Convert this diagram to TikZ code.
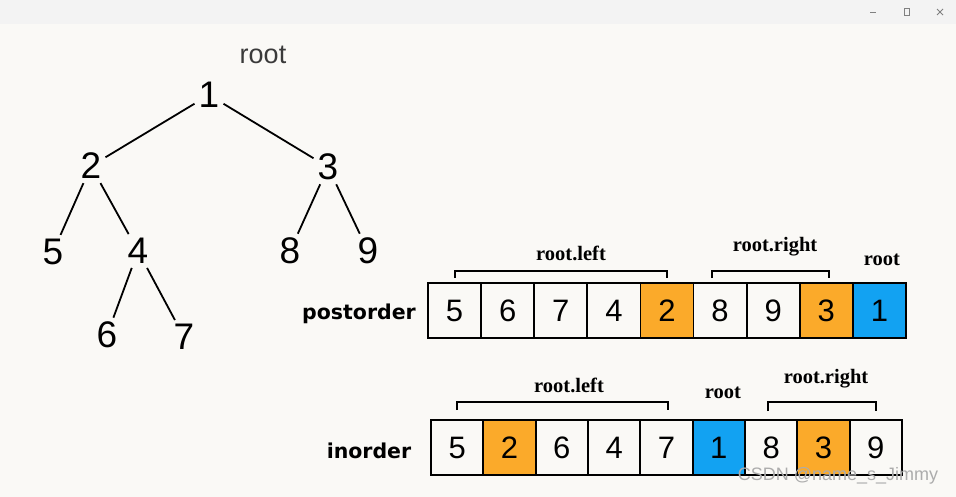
\documentclass[tikz,border=0pt]{standalone}
\usepackage{xcolor}
\usepackage{fontspec}
\setmainfont{Liberation Serif}
\setsansfont{Liberation Sans}
\newfontfamily\orderfont{DejaVu Sans}
\usepackage{tikz}
\usetikzlibrary{positioning}
\definecolor{barGray}{HTML}{F3F3F3}
\definecolor{paperWhite}{HTML}{FAF9F6}
\definecolor{cellOrange}{HTML}{FBAA2A}
\definecolor{cellBlue}{HTML}{12A2F2}
\definecolor{rootGray}{HTML}{3A3A3A}

\begin{document}
\begin{tikzpicture}[x=1pt, y=-1pt]
% style: tree_node
\tikzstyle{tree_node}=[inner sep=4pt,font=\sffamily\fontsize{37}{37}\selectfont]
% style: tree_edge
\tikzstyle{tree_edge}=[line width=1.8pt]
% style: post_cell
\tikzstyle{post_cell}=[draw,line width=1.8pt,minimum width=53.1pt,minimum height=55pt,inner sep=0pt,outer sep=0pt,font=\sffamily\fontsize{31}{31}\selectfont]
% style: in_cell
\tikzstyle{in_cell}=[draw,line width=1.8pt,minimum width=52.3pt,minimum height=55pt,inner sep=0pt,outer sep=0pt,font=\sffamily\fontsize{31}{31}\selectfont]
% style: orderLabel
\tikzstyle{orderLabel}=[inner sep=0pt,font=\orderfont\bfseries\fontsize{20.5}{20.5}\selectfont]
% style: partLabel
\tikzstyle{partLabel}=[inner sep=0pt,font=\rmfamily\bfseries\fontsize{20.5}{20.5}\selectfont]
% style: bracket
\tikzstyle{bracket}=[line width=1.4pt]

% background and window bar
\fill[paperWhite] (0,0) rectangle (956,497);
\fill[barGray] (0,0) rectangle (956,24);
\draw[gray, line width=0.8pt] (870,12) -- (876,12);
\draw[gray, line width=0.8pt] (904.5,8.5) rectangle (909.5,15.5);
\draw[gray, line width=0.8pt] (937,9) -- (943,15) (937,15) -- (943,9);

% node group: tree
% node: tree_root_label
\node[inner sep=0pt,text=rootGray,font=\sffamily\fontsize{27}{27}\selectfont] (tree_root_label) at (263, 55) {root};
% node: t1
\node[tree_node] (t1) at (209, 95) {1};
% node: t2
\node[tree_node] (t2) at (91, 166) {2};
% node: t3
\node[tree_node] (t3) at (328, 167) {3};
% node: t5
\node[tree_node] (t5) at (53, 252) {5};
% node: t4
\node[tree_node] (t4) at (138, 251) {4};
% node: t8
\node[tree_node] (t8) at (290, 251) {8};
% node: t9
\node[tree_node] (t9) at (368, 251) {9};
% node: t6
\node[tree_node] (t6) at (107, 335) {6};
% node: t7
\node[tree_node] (t7) at (184, 337) {7};
% end of node group: tree

% edge from t1 to t2
\draw[tree_edge] (t1) -- (t2);
% edge from t1 to t3
\draw[tree_edge] (t1) -- (t3);
% edge from t2 to t5
\draw[tree_edge] (t2) -- (t5);
% edge from t2 to t4
\draw[tree_edge] (t2) -- (t4);
% edge from t3 to t8
\draw[tree_edge] (t3) -- (t8);
% edge from t3 to t9
\draw[tree_edge] (t3) -- (t9);
% edge from t4 to t6
\draw[tree_edge] (t4) -- (t6);
% edge from t4 to t7
\draw[tree_edge] (t4) -- (t7);

% node group: postorder
% node: postorder_label
\node[orderLabel] (postorder_label) at (359, 314) {postorder};
% node: post_1
\node[post_cell] (post_1) at (454.6, 310.5) {5};
% node: post_2
\node[post_cell] (post_2) at (507.7, 310.5) {6};
% node: post_3
\node[post_cell] (post_3) at (560.8, 310.5) {7};
% node: post_4
\node[post_cell] (post_4) at (613.9, 310.5) {4};
% node: post_5
\node[post_cell,fill=cellOrange] (post_5) at (667.0, 310.5) {2};
% node: post_6
\node[post_cell] (post_6) at (720.1, 310.5) {8};
% node: post_7
\node[post_cell] (post_7) at (773.2, 310.5) {9};
% node: post_8
\node[post_cell,fill=cellOrange] (post_8) at (826.3, 310.5) {3};
% node: post_9
\node[post_cell,fill=cellBlue] (post_9) at (879.4, 310.5) {1};
% node: post_left_label
\node[partLabel] (post_left_label) at (571, 253) {root.left};
% node: post_right_label
\node[partLabel] (post_right_label) at (775, 247) {root.right};
% node: post_root_label
\node[partLabel] (post_root_label) at (882, 260) {root};
% end of node group: postorder

\draw[bracket] (455, 278) -- (455, 271) -- (667, 271) -- (667, 278);
\draw[bracket] (712, 278) -- (712, 271) -- (829, 271) -- (829, 278);

% node group: inorder
% node: inorder_label
\node[orderLabel] (inorder_label) at (369, 451) {inorder};
% node: in_1
\node[in_cell] (in_1) at (457.2, 447.5) {5};
% node: in_2
\node[in_cell,fill=cellOrange] (in_2) at (509.5, 447.5) {2};
% node: in_3
\node[in_cell] (in_3) at (561.8, 447.5) {6};
% node: in_4
\node[in_cell] (in_4) at (614.2, 447.5) {4};
% node: in_5
\node[in_cell] (in_5) at (666.5, 447.5) {7};
% node: in_6
\node[in_cell,fill=cellBlue] (in_6) at (718.8, 447.5) {1};
% node: in_7
\node[in_cell] (in_7) at (771.2, 447.5) {8};
% node: in_8
\node[in_cell,fill=cellOrange] (in_8) at (823.5, 447.5) {3};
% node: in_9
\node[in_cell] (in_9) at (875.8, 447.5) {9};
% node: in_left_label
\node[partLabel] (in_left_label) at (569, 385) {root.left};
% node: in_root_label
\node[partLabel] (in_root_label) at (723, 393) {root};
% node: in_right_label
\node[partLabel] (in_right_label) at (826, 379) {root.right};
% end of node group: inorder

\draw[bracket] (457, 410) -- (457, 402) -- (668, 402) -- (668, 410);
\draw[bracket] (768, 411) -- (768, 402) -- (876, 402) -- (876, 411);

% watermark
\node[inner sep=0pt,text=gray!65,font=\sffamily\fontsize{18}{18}\selectfont] (watermark) at (838, 476) {CSDN @name\_s\_Jimmy};
\end{tikzpicture}
\end{document}
